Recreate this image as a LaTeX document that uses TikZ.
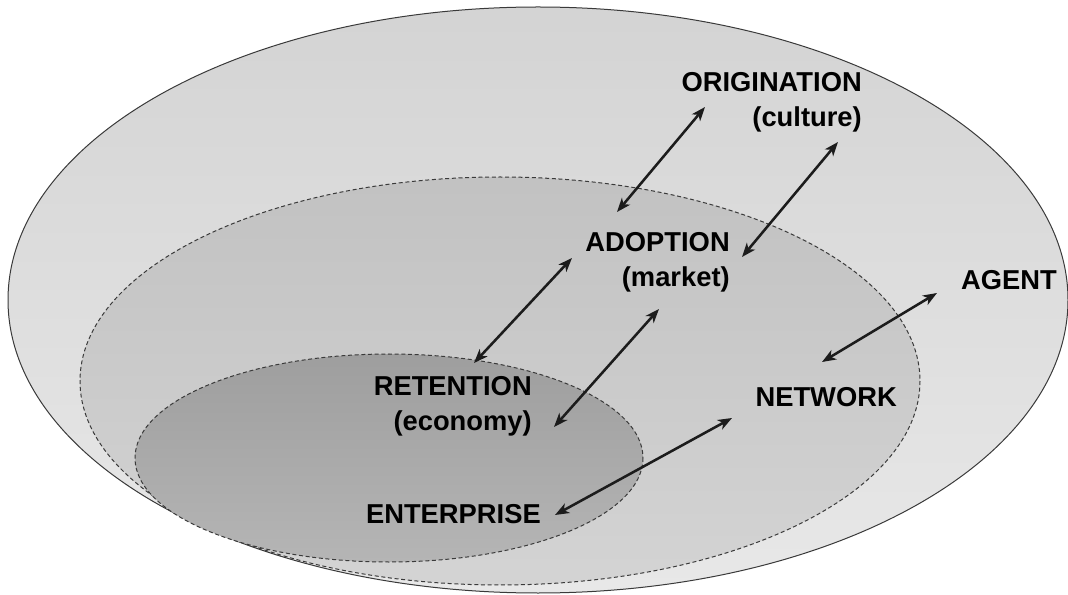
\documentclass[tikz,border=0pt]{standalone}
\usepackage{fontspec}
\setsansfont{Liberation Sans}
\usetikzlibrary{arrows.meta, positioning}
\definecolor{LinkGray}{HTML}{1C1C1C}
\definecolor{RimGray}{HTML}{3A3A3A}
\tikzset{
  stage/.style={inner sep=0pt, align=right, text=black, font=\sffamily\bfseries\fontsize{20.5}{26}\selectfont},
  ring/.style={draw=RimGray, line width=0.75pt, dash pattern=on 3pt off 2pt},
  link/.style={<->, >={Stealth[length=10.5pt, width=8pt, inset=3pt]}, draw=LinkGray, line width=1.9pt}
}

\begin{document}
\begin{tikzpicture}[x=0.75pt, y=-0.75pt]
  \useasboundingbox (0,0) rectangle (1068,595);
  % nested fields
  \shade[top color=gray!34, bottom color=gray!18] (538,300) ellipse [x radius=530, y radius=293];
  \draw[RimGray, line width=0.75pt] (538,300) ellipse [x radius=530, y radius=293];
  \shade[ring, top color=gray!48, bottom color=gray!34] (500,381) ellipse [x radius=420, y radius=204];
  \shade[ring, top color=gray!76, bottom color=gray!58] (389,458) ellipse [x radius=254, y radius=104];

  % labels
  \node (origination) [stage, anchor=east] at (862,102) {ORIGINATION\\(culture)};
  \node (adoption) [stage, anchor=east] at (730,262) {ADOPTION\\(market)};
  \node (retention) [stage, anchor=east] at (532,406) {RETENTION\\(economy)};
  \node (enterprise) [stage, anchor=east] at (541,514) {ENTERPRISE};
  \node (network) [stage, anchor=east] at (897,397) {NETWORK};
  \node (agent) [stage, anchor=east] at (1057,280) {AGENT};

  % arrow ends
  \coordinate (origA) at (705,107);
  \coordinate (adopA) at (617,212);
  \coordinate (cultB) at (838,142);
  \coordinate (markB) at (742,257);
  \coordinate (adopC) at (572,258);
  \coordinate (reteC) at (474,363);
  \coordinate (markD) at (659,309);
  \coordinate (econD) at (554,427);
  \coordinate (netwE) at (732,418);
  \coordinate (entrE) at (555,515);
  \coordinate (agenF) at (937,293);
  \coordinate (netwF) at (822,362);

  \draw [link] (origA) -- (adopA);
  \draw [link] (cultB) -- (markB);
  \draw [link] (adopC) -- (reteC);
  \draw [link] (markD) -- (econD);
  \draw [link] (netwE) -- (entrE);
  \draw [link] (agenF) -- (netwF);
\end{tikzpicture}
\end{document}
